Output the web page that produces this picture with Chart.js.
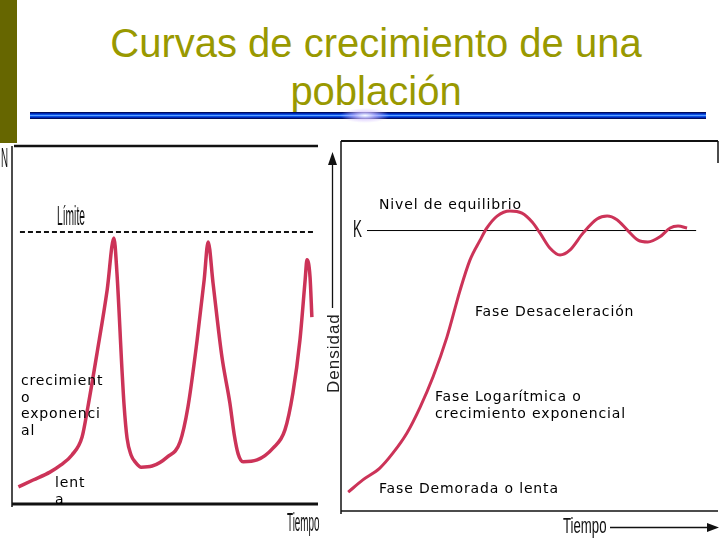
<!DOCTYPE html>
<html><head><meta charset="utf-8">
<script src="https://cdn.jsdelivr.net/npm/chart.js@4/dist/chart.umd.min.js"></script>
<style>
html,body{margin:0;padding:0;background:#fff;}
#wrap{position:relative;width:720px;height:540px;overflow:hidden;background:#fff;}
canvas{position:absolute;left:0;top:0;}
.t{position:absolute;white-space:nowrap;font-family:'DejaVu Sans',sans-serif;font-size:14px;line-height:16.5px;letter-spacing:0.85px;color:#000;}
.c{position:absolute;white-space:nowrap;font-family:'Liberation Sans',sans-serif;transform-origin:0 0;color:#111;}
.title{position:absolute;left:376px;transform:translateX(-50%);font-family:'Liberation Sans',Arial,sans-serif;font-size:40px;line-height:40px;color:#999900;white-space:nowrap;}
</style></head><body>
<div id="wrap">
<div style="position:absolute;left:0;top:0;width:17px;height:143px;background:#666600"></div>
<div class="title" style="top:23px">Curvas de crecimiento de una</div>
<div class="title" style="top:71px">población</div>
<div style="position:absolute;left:30px;top:112px;width:676px;height:7px;background:linear-gradient(to bottom,#000038 0px,#0028b0 1.5px,#1060ff 3px,#5aa0ff 3.5px,#1060ff 4px,#0028b0 5.5px,#000038 7px);"></div>
<div style="position:absolute;left:340px;top:108px;width:50px;height:15px;background:radial-gradient(ellipse at center,rgba(255,255,255,0.95) 0%,rgba(210,190,255,0.7) 30%,rgba(120,100,255,0) 70%);"></div>
<canvas id="left" width="720" height="540"></canvas>
<canvas id="right" width="720" height="540"></canvas>

<div class="c" style="left:1px;top:144px;font-size:28px;line-height:28px;transform:scaleX(0.35)">N</div>
<div class="c" style="left:57px;top:203px;font-size:27px;line-height:27px;transform:scaleX(0.38)">Límite</div>
<div class="c" style="left:287px;top:509px;font-size:26px;line-height:26px;transform:scaleX(0.38)">Tiempo</div>
<div class="c" style="left:353px;top:217px;font-size:24px;line-height:24px;transform:scaleX(0.56)">K</div>
<div class="c" style="left:563px;top:515px;font-size:22px;line-height:22px;transform:scaleX(0.6)">Tiempo</div>
<div class="c" style="left:324.6px;top:393px;font-size:17px;line-height:17px;letter-spacing:1px;color:#222;transform:rotate(-90deg)">Densidad</div>

<div class="t" style="left:21px;top:372px">crecimient<br>o<br>exponenci<br>al</div>
<div class="t" style="left:55px;top:474px">lent<br>a</div>
<div class="t" style="left:379px;top:195.5px">Nivel de equilibrio</div>
<div class="t" style="left:475px;top:303px">Fase Desaceleración</div>
<div class="t" style="left:435px;top:388px">Fase Logarítmica o<br>crecimiento exponencial</div>
<div class="t" style="left:379px;top:479.5px">Fase Demorada o lenta</div>
</div>
<script>
// Left panel: boom-and-bust population (time 0-100, N 0-100)
const leftTime    = [2.1, 6.9, 12.4, 16.0, 19.6, 22.9, 24.8, 27.8, 31.1, 33.3, 34.3, 36.0, 36.6, 37.6, 38.9, 40.5, 42.2, 45.8, 50.7, 54.9, 57.5, 60.5, 62.8, 64.1, 65.7, 68.6, 71.2, 72.6, 73.9, 75.5, 80.1, 85.3, 89.2, 91.8, 94.1, 95.8, 96.4, 97.4, 98.0];
const leftDensity = [4.8, 6.7, 8.9, 10.9, 13.7, 18.7, 27.1, 42.2, 59.8, 74.3, 64.5, 36.6, 27.9, 18.4, 13.7, 11.5, 10.3, 10.6, 13.1, 17.3, 27.1, 45.8, 62.6, 73.2, 61.7, 41.1, 28.2, 19.5, 14.0, 11.8, 12.3, 15.6, 20.7, 31.0, 45.8, 62.6, 68.2, 63.4, 52.2];
const limitTime   = [2.6, 98.7];
const limitValue  = [76, 76];

// Right panel: logistic growth with oscillation around K
const rightTime    = [1.9, 5.8, 10.3, 13.8, 17.5, 21.0, 24.4, 28.1, 31.6, 34.2, 36.9, 38.7, 41.4, 44.8, 48.0, 50.7, 52.8, 55.4, 58.1, 60.7, 64.2, 67.9, 70.6, 73.2, 75.9, 78.8, 81.4, 84.6, 87.3, 89.4, 91.8];
const rightDensity = [5.1, 8.4, 11.6, 15.7, 21.1, 28.1, 36.2, 47.0, 59.7, 67.8, 73.2, 76.5, 79.7, 81.1, 80.5, 78.1, 75.1, 71.1, 69.2, 70.5, 75.1, 78.9, 79.7, 78.7, 76.0, 73.2, 72.7, 74.1, 76.5, 77.0, 76.5];
const kTime  = [6.9, 94.2];
const kValue = [75.8, 75.8];

const curveColor = '#cc3358';
const zip = (xs, ys) => xs.map((x, i) => ({x, y: ys[i]}));

function seg(ctx, x1, y1, x2, y2, w) {
  ctx.lineWidth = w; ctx.beginPath(); ctx.moveTo(x1, y1); ctx.lineTo(x2, y2); ctx.stroke();
}

const leftFrame = {
  id: 'leftFrame',
  beforeDatasetsDraw(chart) {
    const {ctx, chartArea: a} = chart;
    ctx.save(); ctx.strokeStyle = '#111';
    seg(ctx, a.left + 2, a.top, a.right, a.top, 2.5);
    seg(ctx, a.left, a.top, a.left, a.bottom + 3, 1.5);
    seg(ctx, a.left, a.bottom, a.right, a.bottom, 3);
    ctx.restore();
  }
};
const rightFrame = {
  id: 'rightFrame',
  beforeDatasetsDraw(chart) {
    const {ctx, chartArea: a} = chart;
    ctx.save(); ctx.strokeStyle = '#111'; ctx.fillStyle = '#111';
    seg(ctx, a.left, a.top, a.right, a.top, 2);
    seg(ctx, a.right, a.top, a.right, a.top + 22, 1.5);
    seg(ctx, a.left, a.top, a.left, a.bottom + 3, 1.5);
    seg(ctx, a.left, a.bottom, a.right, a.bottom, 1.5);
    // Densidad arrow
    const ax = a.left - 8.5;
    seg(ctx, ax, 162, ax, 308, 1.3);
    ctx.beginPath(); ctx.moveTo(ax, 152); ctx.lineTo(ax - 4.5, 165); ctx.lineTo(ax + 4.5, 165); ctx.closePath(); ctx.fill();
    // Tiempo arrow
    seg(ctx, 610, 527.5, 710, 527.5, 1.3);
    ctx.beginPath(); ctx.moveTo(719, 527.5); ctx.lineTo(707, 523); ctx.lineTo(707, 532); ctx.closePath(); ctx.fill();
    ctx.restore();
  }
};

const baseScales = {
  x: {type: 'linear', min: 0, max: 100, display: false},
  y: {type: 'linear', min: 0, max: 100, display: false}
};

new Chart(document.getElementById('left'), {
  type: 'line',
  data: {
    datasets: [
      {data: zip(leftTime, leftDensity), borderColor: curveColor, borderWidth: 3.5, pointRadius: 0, cubicInterpolationMode: 'monotone', clip: false},
      {data: zip(limitTime, limitValue), borderColor: '#111', borderWidth: 2, borderDash: [5, 3], pointRadius: 0, clip: false}
    ]
  },
  options: {
    responsive: false, animation: false, devicePixelRatio: 1,
    layout: {padding: {left: 12, right: 402, top: 146, bottom: 36}},
    plugins: {legend: {display: false}, tooltip: {enabled: false}},
    scales: baseScales
  },
  plugins: [leftFrame]
});

new Chart(document.getElementById('right'), {
  type: 'line',
  data: {
    datasets: [
      {data: zip(rightTime, rightDensity), borderColor: curveColor, borderWidth: 3, pointRadius: 0, cubicInterpolationMode: 'monotone', clip: false},
      {data: zip(kTime, kValue), borderColor: '#000', borderWidth: 1, pointRadius: 0, clip: false}
    ]
  },
  options: {
    responsive: false, animation: false, devicePixelRatio: 1,
    layout: {padding: {left: 341, right: 2, top: 141, bottom: 29}},
    plugins: {legend: {display: false}, tooltip: {enabled: false}},
    scales: JSON.parse(JSON.stringify(baseScales))
  },
  plugins: [rightFrame]
});
</script>
</body></html>
